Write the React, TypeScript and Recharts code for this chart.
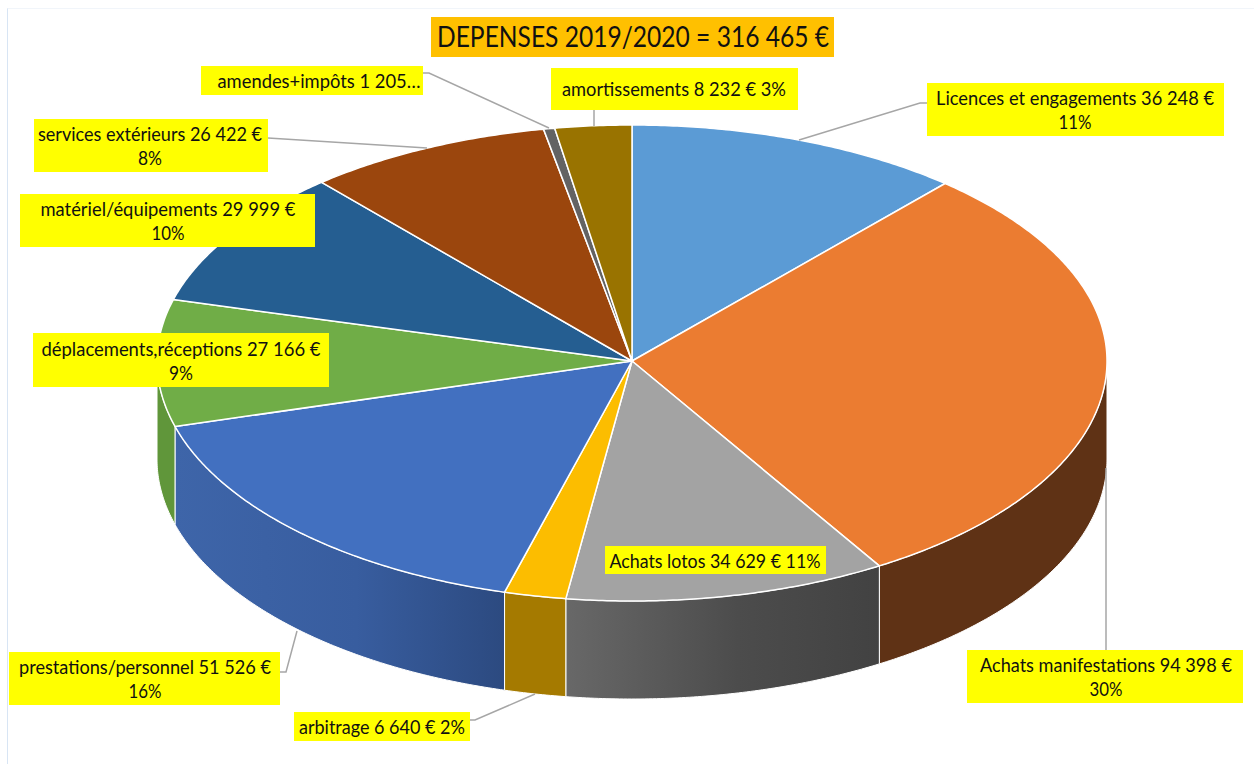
import { Pie, PieChart } from "recharts";

const categories = [
  "Licences et engagements",
  "Achats manifestations",
  "Achats lotos",
  "arbitrage",
  "prestations/personnel",
  "déplacements,réceptions",
  "matériel/équipements",
  "services extérieurs",
  "amendes+impôts",
  "amortissements",
];
const values = [36248, 94398, 34629, 6640, 51526, 27166, 29999, 26422, 1205, 8232];
const firstLines = [
  "Licences et engagements 36 248 €",
  "Achats manifestations 94 398 €",
  "Achats lotos 34 629 € 11%",
  "arbitrage 6 640 € 2%",
  "prestations/personnel 51 526 €",
  "déplacements,réceptions 27 166 €",
  "matériel/équipements 29 999 €",
  "services extérieurs 26 422 €",
  "amendes+impôts 1 205…",
  "amortissements 8 232 € 3%",
];
const secondLines = ["11%", "30%", "", "", "16%", "9%", "10%", "8%", "", ""];
const title = "DEPENSES 2019/2020 = 316 465 €";

const topColors = ["#5b9bd5", "#eb7c31", "#a3a3a3", "#fcbd00", "#4270c0", "#70ad47", "#255e91", "#9b460d", "#636363", "#997300"];
// left, middle and right colour of the outer wall, only the front slices show it
const wallColors = [
  ["#37607f", "#37607f", "#37607f"],
  ["#5f3215", "#5f3215", "#5f3215"],
  ["#686868", "#4c4c4c", "#424242"],
  ["#a57a00", "#a57a00", "#a57a00"],
  ["#3e65a9", "#385d9f", "#2c4a80"],
  ["#60963a", "#60963a", "#60963a"],
  ["#1c4666", "#1c4666", "#1c4666"],
  ["#763608", "#763608", "#763608"],
  ["#4a4a4a", "#4a4a4a", "#4a4a4a"],
  ["#725600", "#725600", "#725600"],
];

// label boxes: x, y, w, h, text centre, first baseline, first/second text width
const boxes = [
  [927, 83, 297, 53, 1075, 105, 278, 33],
  [967, 650, 276, 53, 1106, 672, 252, 33],
  [605, 546, 221, 28, 715, 568, 211, 0],
  [294, 712, 176, 29, 382, 734, 166, 0],
  [9, 652, 271, 53, 145, 674, 252, 33],
  [33, 333, 296, 54, 181, 356, 279, 24],
  [20, 194, 295, 53, 168, 216, 255, 33],
  [34, 119, 234, 53, 150, 141, 224, 24],
  [201, 66, 222, 29, 319, 88, 203, 0],
  [551, 68, 247, 42, 674, 96, 224, 0],
];
const leaders: Record<number, string> = {
  0: "927,103 920,103 799,140",
  1: "1106,650 1106,468",
  3: "470,720 475,720 535,694",
  4: "280,672 286,672 297,631",
  7: "268,138 427,148",
  8: "423,73 429,73 549,128",
  9: "594,110 594,126",
};

const chartData = categories.map((name, i) => ({ name, value: values[i] }));

const CX = 632;
const CY = 361;
const RADIUS = 475;
const DEPTH = 98;
const BACK_RATIO = 236 / 475;
const FRONT_RATIO = 240 / 475;

function rimPoint(cx: number, cy: number, r: number, deg: number) {
  const rad = (deg * Math.PI) / 180;
  const s = Math.sin(rad);
  return [cx + r * Math.cos(rad), cy - r * s * (s > 0 ? BACK_RATIO : FRONT_RATIO)];
}

function rimPoints(cx: number, cy: number, r: number, from: number, to: number) {
  const n = Math.max(2, Math.ceil(Math.abs(from - to) * 2));
  const pts: number[][] = [];
  for (let i = 0; i <= n; i++) pts.push(rimPoint(cx, cy, r, from + ((to - from) * i) / n));
  return pts;
}

const toPath = (pts: number[][]) => "M" + pts.map((p) => `${p[0].toFixed(2)},${p[1].toFixed(2)}`).join("L") + "Z";

function TopSlice(props: any) {
  const { cx, cy, outerRadius, startAngle, endAngle, index } = props;
  const pts = [[cx, cy], ...rimPoints(cx, cy, outerRadius, startAngle, endAngle)];
  return <path d={toPath(pts)} fill={topColors[index]} stroke="#ffffff" strokeWidth={1.5} strokeLinejoin="round" />;
}

function WallSlice(props: any) {
  const { cx, cy, outerRadius, startAngle, endAngle, index } = props;
  // keep only the part of the slice on the front half of the ellipse
  const from = Math.min(startAngle, 0);
  const to = Math.max(endAngle, -180);
  if (from <= to) return <g />;
  const upper = rimPoints(cx, cy, outerRadius, from, to);
  const lower = [...upper].reverse().map((p) => [p[0], p[1] + DEPTH]);
  return <path d={toPath([...upper, ...lower])} fill={`url(#wall-${index})`} stroke="#ffffff" strokeWidth={1} />;
}

function SliceLabel(props: any) {
  const { index } = props;
  const [x, y, w, h, tx, base, w1, w2] = boxes[index];
  return (
    <g>
      {leaders[index] && <polyline points={leaders[index]} fill="none" stroke="#a6a6a6" strokeWidth={1.5} />}
      <rect x={x} y={y} width={w} height={h} fill="#ffff00" />
      <text x={tx} y={base} textAnchor="middle" fontFamily="Lato" fontSize={19.5} fill="#111111" textLength={w1} lengthAdjust="spacingAndGlyphs">
        {firstLines[index]}
      </text>
      {secondLines[index] && (
        <text x={tx} y={base + 24} textAnchor="middle" fontFamily="Lato" fontSize={19.5} fill="#111111" textLength={w2} lengthAdjust="spacingAndGlyphs">
          {secondLines[index]}
        </text>
      )}
    </g>
  );
}

export default function App() {
  return (
    <div style={{ position: "absolute", left: 0, top: 0, width: 1254, height: 764, background: "#ffffff", overflow: "hidden" }}>
      <div style={{ position: "absolute", left: 7, top: 8, right: 0, bottom: 0, borderLeft: "1px solid #d8e5f4", borderTop: "1px solid #f1f5fa" }} />
      <div style={{ position: "absolute", left: 0, top: 0 }}>
        <PieChart width={1254} height={764} margin={{ top: 0, right: 0, bottom: 0, left: 0 }}>
          <defs>
            {wallColors.map((c, i) => (
              <linearGradient key={i} id={`wall-${i}`} x1="0" y1="0" x2="1" y2="0">
                <stop offset="0%" stopColor={c[0]} />
                <stop offset="55%" stopColor={c[1]} />
                <stop offset="100%" stopColor={c[2]} />
              </linearGradient>
            ))}
          </defs>
          <Pie
            data={chartData}
            dataKey="value"
            cx={CX}
            cy={CY}
            innerRadius={0}
            outerRadius={RADIUS}
            startAngle={90}
            endAngle={-270}
            isAnimationActive={false}
            shape={WallSlice}
          />
          <Pie
            data={chartData}
            dataKey="value"
            cx={CX}
            cy={CY}
            innerRadius={0}
            outerRadius={RADIUS}
            startAngle={90}
            endAngle={-270}
            isAnimationActive={false}
            shape={TopSlice}
            label={SliceLabel}
            labelLine={false}
          />
          <rect x={431} y={17} width={403} height={40} fill="#ffc000" />
          <text x={633} y={47} textAnchor="middle" fontFamily="Lato" fontSize={29} fill="#111111" textLength={392} lengthAdjust="spacingAndGlyphs">
            {title}
          </text>
        </PieChart>
      </div>
    </div>
  );
}
